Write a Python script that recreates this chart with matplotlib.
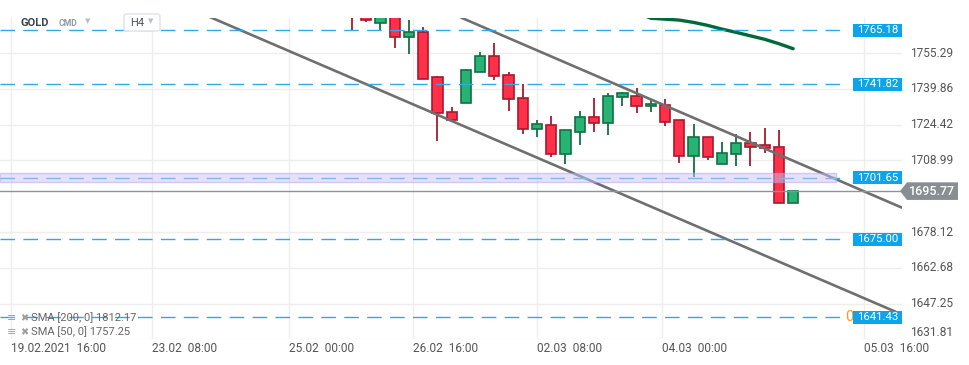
"""
GOLD H4 candles with a falling channel, xStation style.
"""

import matplotlib.pyplot as plt
import matplotlib.transforms as mtransforms
from matplotlib.patches import Rectangle, Polygon, FancyBboxPatch

plt.rcParams['font.family'] = ['Roboto', 'DejaVu Sans']

# H4 candles, oldest first (the first bodies sit above the visible window)
opens = [1776.0, 1773.0, 1768.5, 1774.0, 1762.2, 1764.3, 1745.0, 1729.9,
         1733.7, 1747.1, 1754.0, 1745.8, 1735.9, 1722.5, 1724.3, 1712.0,
         1721.2, 1727.7, 1725.1, 1736.3, 1736.8, 1732.4, 1733.0, 1726.4,
         1710.9, 1719.1, 1707.4, 1711.8, 1716.6, 1715.6, 1714.8, 1690.6]
highs = [1780.0, 1775.0, 1776.0, 1777.0, 1769.6, 1766.6, 1745.4, 1732.0,
         1748.4, 1755.8, 1759.7, 1747.2, 1741.9, 1726.4, 1728.1, 1722.1,
         1730.3, 1735.9, 1738.0, 1738.5, 1740.2, 1735.0, 1735.6, 1726.4,
         1724.8, 1719.1, 1716.8, 1720.4, 1721.1, 1723.2, 1722.2, 1695.77]
lows = [1764.9, 1768.9, 1764.9, 1757.7, 1755.1, 1744.3, 1717.2, 1726.4,
        1733.7, 1747.1, 1743.7, 1730.5, 1720.6, 1719.3, 1710.3, 1707.3,
        1715.5, 1721.1, 1720.2, 1732.7, 1729.7, 1730.1, 1723.7, 1708.1,
        1701.9, 1709.3, 1707.4, 1706.6, 1706.4, 1712.2, 1690.6, 1690.6]
closes = [1772.0, 1769.6, 1773.0, 1762.2, 1764.3, 1744.3, 1729.4, 1726.4,
          1748.0, 1754.0, 1745.4, 1735.5, 1722.5, 1724.7, 1712.0, 1722.1,
          1727.7, 1725.1, 1736.8, 1738.0, 1732.4, 1733.3, 1725.8, 1710.9,
          1719.1, 1710.5, 1712.2, 1716.6, 1714.8, 1714.4, 1690.6, 1695.77]

# SMA(50), only the tail is inside the window
sma_idx = [20, 21, 22, 23, 24, 25, 26, 27, 28, 29, 30, 31]
sma_val = [1773.0, 1770.4, 1770.0, 1769.6, 1768.6, 1767.3, 1765.7,
           1764.3, 1762.8, 1761.3, 1759.4, 1757.25]

# channel lines (bar index, price)
chan_upper = [(7.73, 1770.5), (38.58, 1688.8)]
chan_lower = [(-9.98, 1770.9), (38.16, 1643.8)]

# horizontal levels
levels = [1765.18, 1741.82, 1701.65, 1675.00, 1641.43]
band = (1699.7, 1703.6)
last_price = 1695.77

yticks = [1755.29, 1739.86, 1724.42, 1708.99, 1678.12, 1662.68, 1647.25, 1631.81]
xtick_pos = [-23.98, -14.05, -4.43, 4.29, 13.0, 21.8, 36.0]
xtick_lab = ['19.02.2021  16:00', '23.02  08:00', '25.02  00:00', '26.02  16:00',
             '02.03  08:00', '04.03  00:00', '05.03  16:00']

W, H = 970, 365
fig = plt.figure(figsize=(W / 100, H / 100), dpi=100)
ax = fig.add_axes([0, (H - 339.3) / H, 902 / W, (339.3 - 18) / H])
ax.set_xlim(-24.74, 38.65)
ax.set_ylim(1631.81, 1770.5)
for s in ax.spines.values():
    s.set_visible(False)

# grid
ax.set_yticks(yticks)
ax.set_yticklabels([])
ax.tick_params(axis='y', length=0)
ax.set_xticks(xtick_pos, xtick_lab)
ax.tick_params(axis='x', length=0, pad=2, labelsize=8.6, labelcolor='#555555')
for lbl in ax.get_xticklabels():
    lbl.set_ha('left')
ax.grid(True, color='#eeeeee', lw=1, zorder=0)
ax.set_axisbelow(True)

# candles
body_w = 0.72
for i, (o, h, l, c) in enumerate(zip(opens, highs, lows, closes)):
    up = c >= o
    fc = '#26b374' if up else '#ff3047'
    ec = '#117043' if up else '#a8192d'
    ax.plot([i, i], [l, h], color=ec, lw=1.3, zorder=2, solid_capstyle='butt')
    ax.add_patch(Rectangle((i - body_w / 2, min(o, c)), body_w, max(abs(c - o), 0.3),
                           fc=fc, ec=ec, lw=1.2, zorder=2.5))

# SMA 50
ax.plot(sma_idx, sma_val, color='#00693a', lw=2.4, zorder=3, solid_capstyle='round')

# channel
for seg in (chan_upper, chan_lower):
    xs, ys = zip(*seg)
    ax.plot(xs, ys, color='#6f6f6f', lw=1.9, zorder=3.2)

# levels
for lv in levels:
    ax.axhline(lv, xmin=0, xmax=848 / 902, color='#2fa8e6', lw=1.0,
               ls=(0, (10.5, 6)), zorder=3.5)
ax.axhline(last_price, color='#8c9498', lw=1.0, zorder=3.4)
ax.axhspan(band[0], band[1], xmin=0, xmax=836 / 902, fc='#cfc4f0', alpha=0.5,
           ec='#b2a2e2', lw=1, zorder=4)

# price tags on the right
tr = mtransforms.blended_transform_factory(ax.transAxes, ax.transData)
ax.text(849 / 902, 1641.43, '0', transform=tr, ha='center', va='center',
        color='#ff9a1f', fontsize=10.5, zorder=4.5)
for lv in levels:
    ax.add_patch(Rectangle((853 / 902, lv - 2.8), 49 / 902, 5.6, transform=tr,
                           fc='#0aa5ec', ec='none', zorder=5))
    ax.text((853 + 902) / 2 / 902, lv, f'{lv:.2f}', transform=tr, ha='center',
            va='center', color='white', fontsize=8.2, zorder=6)

# right axis labels
trf = mtransforms.blended_transform_factory(fig.transFigure, ax.transData)
for yt in yticks:
    va = 'bottom' if yt == yticks[-1] else 'center'
    ax.text(910 / W, yt, f'{yt:.2f}', transform=trf, ha='left', va=va,
            color='#555555', fontsize=8.6, clip_on=False)

# last price tag
px = [900 / W, 907 / W, 958 / W, 958 / W, 907 / W]
py = [last_price, last_price + 3.8, last_price + 3.8, last_price - 3.8, last_price - 3.8]
ax.add_patch(Polygon(list(zip(px, py)), closed=True, transform=trf, fc='#878f94',
                     ec='none', clip_on=False, zorder=6))
ax.text(932 / W, last_price, f'{last_price:.2f}', transform=trf, ha='center',
        va='center', color='white', fontsize=9, fontweight='medium',
        clip_on=False, zorder=7)

# header
def fx(p):
    return p / W


def fy(p):
    return 1 - p / H


fig.text(fx(21), fy(23.5), 'GOLD', fontsize=8, fontweight='bold', color='#3a4550', va='center')
fig.text(fx(59), fy(24), 'CMD', fontsize=6.2, fontweight='bold', color='#8d9aa5', va='center')
fig.text(fx(85), fy(22), '▼', fontsize=5, color='#b9bfc5', va='center')
fig.patches.append(FancyBboxPatch((fx(124), fy(31)), fx(36), 17 / H,
                                  boxstyle='round,pad=0,rounding_size=0.004',
                                  transform=fig.transFigure, fc='white',
                                  ec='#dfe3e7', lw=1, zorder=8))
fig.text(fx(130), fy(23), 'H4', fontsize=8, color='#4a5560', va='center', zorder=9)
fig.text(fx(148), fy(22), '▼', fontsize=5, color='#b9bfc5', va='center', zorder=9)

# indicator legend
for yy, txt in [(318, 'SMA [200, 0] 1812.17'), (332, 'SMA [50, 0] 1757.25')]:
    fig.text(fx(7), fy(yy), '≡', fontsize=8, color='#9aa0a6', va='center')
    fig.text(fx(20), fy(yy), '✖', fontsize=7, color='#9aa0a6', va='center')
    fig.text(fx(31), fy(yy), txt, fontsize=8, color='#666666', va='center')

fig.savefig('out.png', dpi=100, facecolor='white')
